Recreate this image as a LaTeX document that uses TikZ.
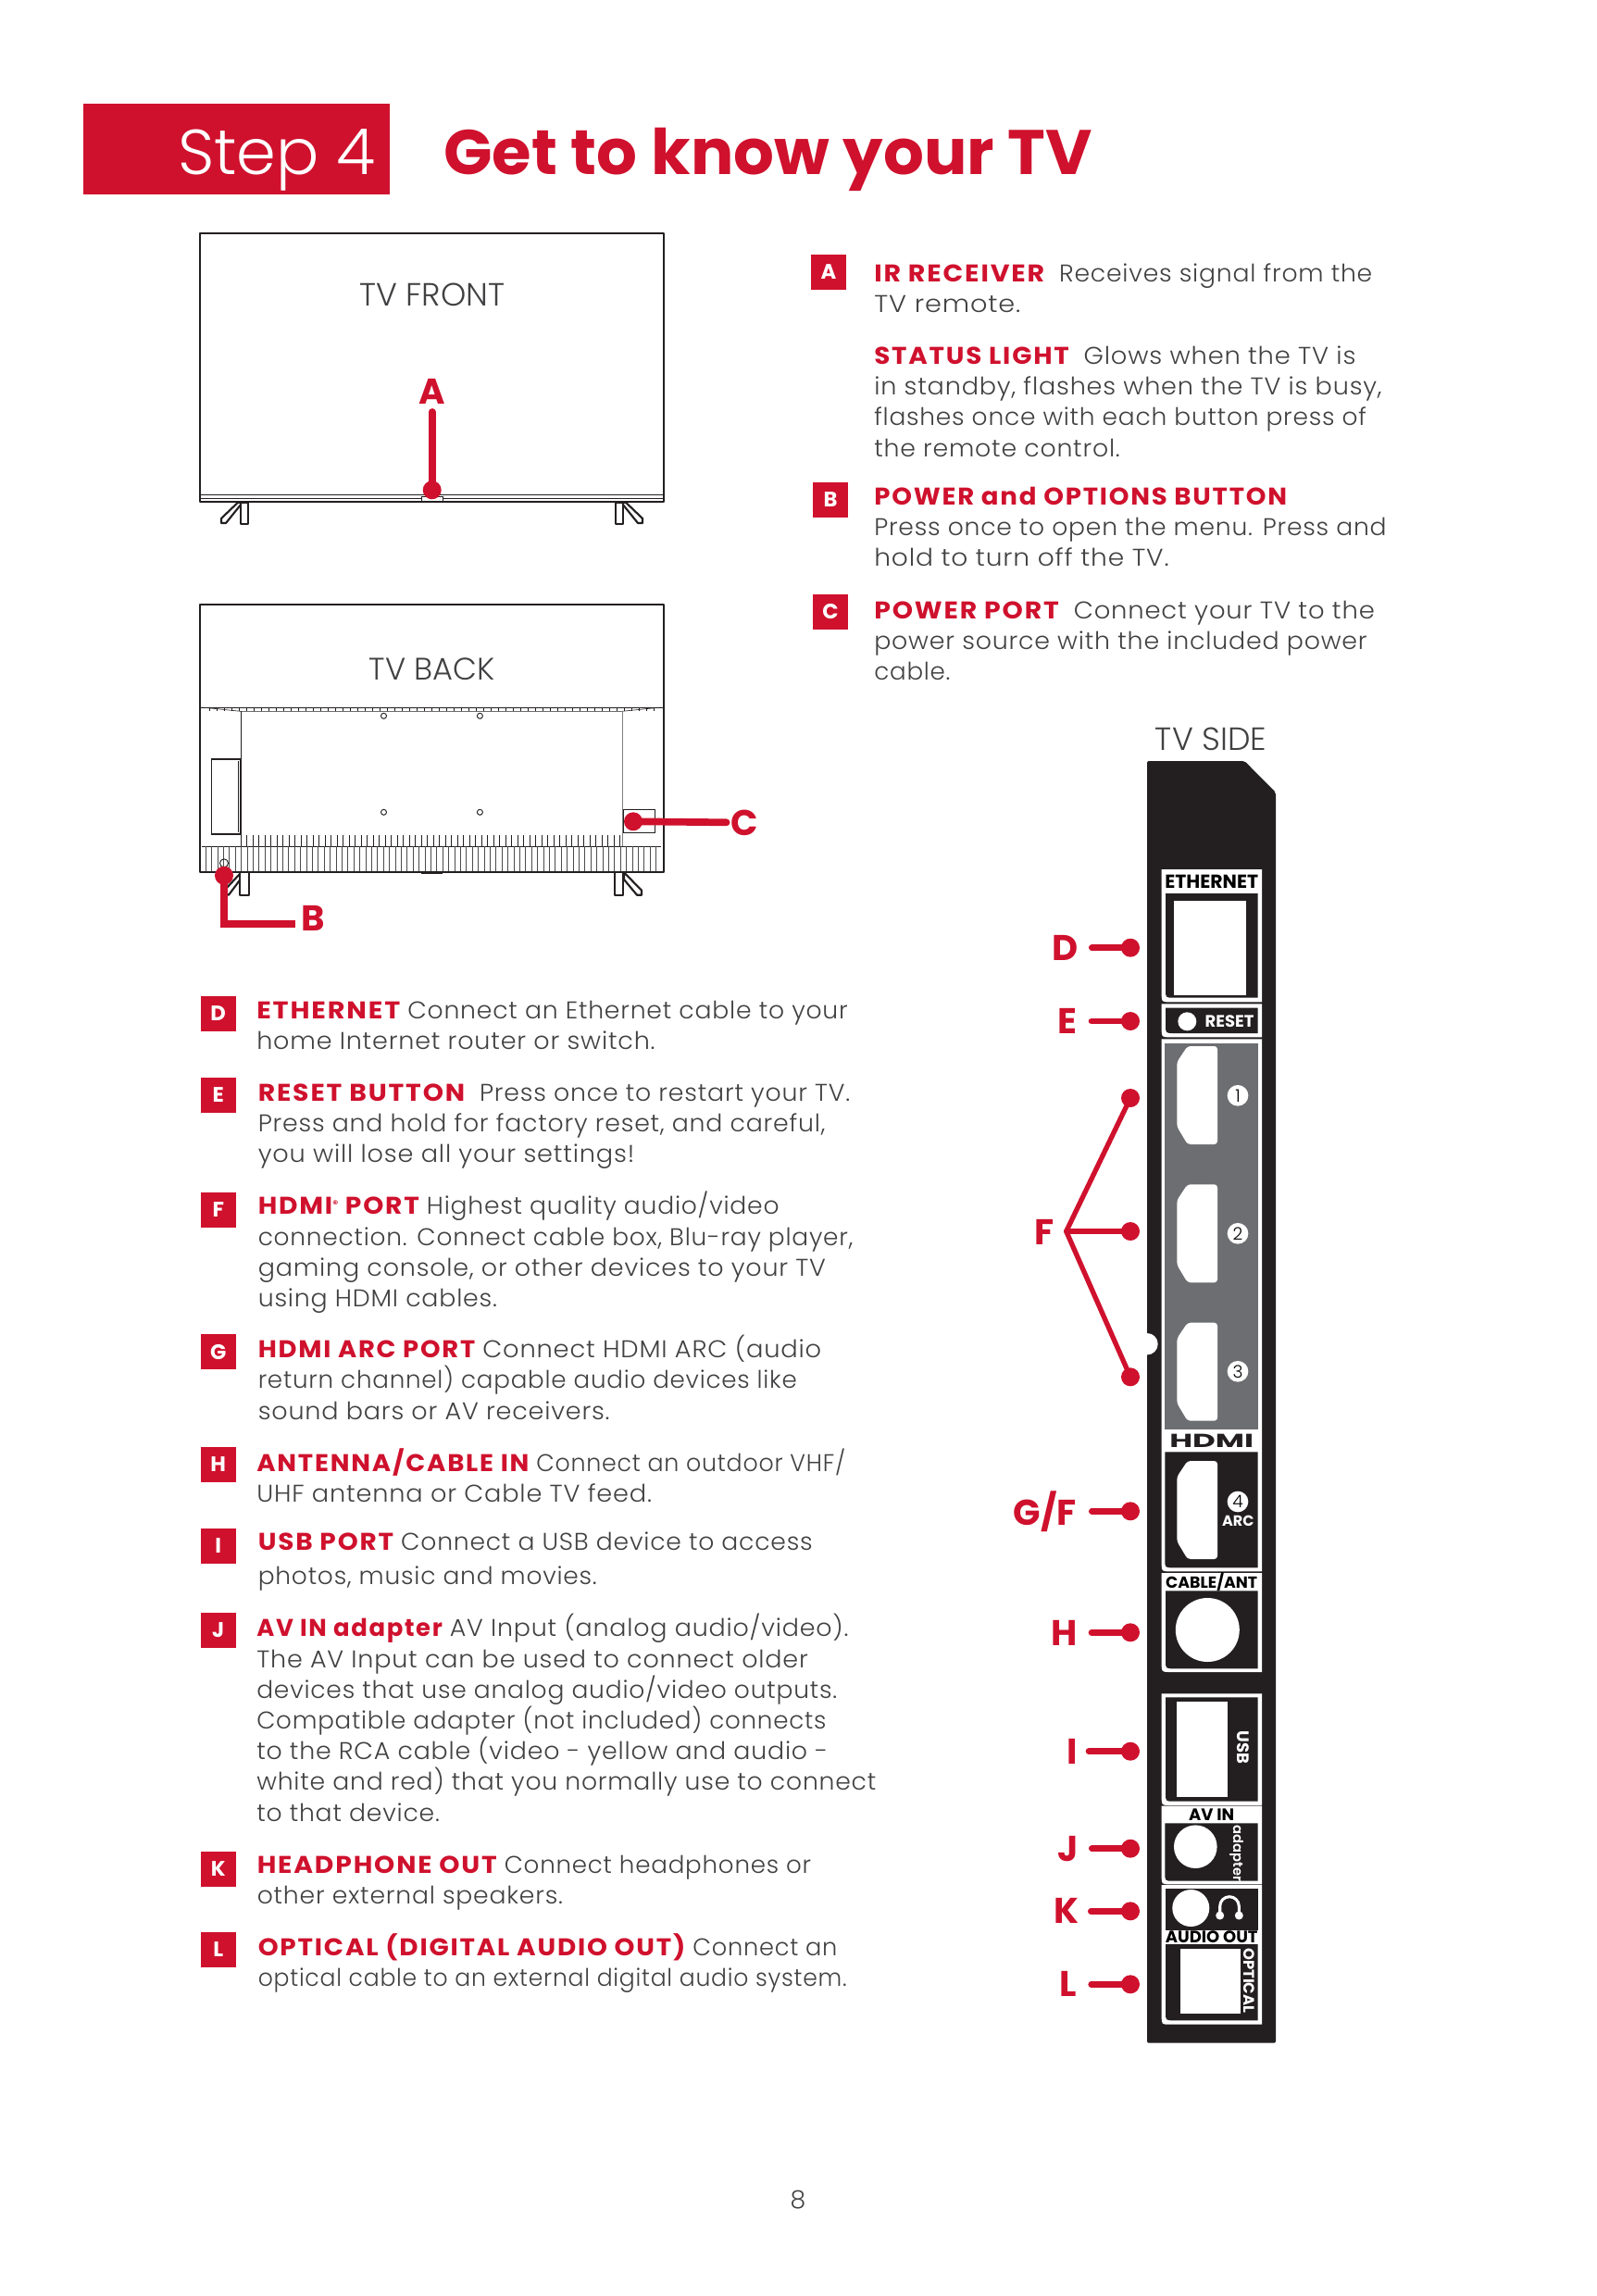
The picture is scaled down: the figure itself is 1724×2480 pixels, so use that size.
\documentclass[tikz,border=0pt]{standalone}
\usepackage{fontspec}
\usepackage{graphicx}
\setmainfont{Poppins}[UprightFont=* Light,BoldFont=* SemiBold]
\newfontfamily\boldfam{Poppins}[UprightFont=* Bold]
\newfontfamily\bodyfam{Poppins}[UprightFont=* Light,LetterSpace=3]
\newfontfamily\redfam{Poppins}[UprightFont=* Bold,LetterSpace=6.5]
\definecolor{stepred}{HTML}{CF112D}
\definecolor{ink}{HTML}{414042}
\definecolor{body}{HTML}{231F20}
\definecolor{hdmigray}{HTML}{6D6E71}
\newcommand\rd[2][1]{\scalebox{#1}[1]{\textcolor{stepred}{\redfam #2}}}
\newcommand\sx[2]{\scalebox{#1}[1]{#2}}
\newcommand\panelpath[4]{(#1,#2) -- (#3,#2) -- (#3,#4) -- ({#1+9},#4) .. controls (#1,#4) .. (#1,{#4-9}) -- cycle}
\newcommand\hdmiport[1]{\fill[white,rounded corners=2.5pt] (1271.3,{#1+17}) -- (1282.7,#1) -- (1315,#1) -- (1315,{#1+106}) -- (1282.7,{#1+106}) -- (1271.3,{#1+87}) -- cycle;}
\lineskiplimit=-20pt
\tikzset{
  x=0.75pt,y=-0.75pt,
  txt/.style={anchor=north west,inner sep=0pt,align=left,text=ink,font=\bodyfam\fontsize{19.6}{24.9}\selectfont},
  sq/.style={fill=stepred,text=white,inner sep=0pt,minimum size=28.5pt,font=\boldfam\fontsize{17}{17}\selectfont},
  lab/.style={inner sep=0pt,text=stepred,font=\boldfam\fontsize{29}{29}\selectfont},
  ptdot/.style={circle,fill=stepred,inner sep=0pt,minimum size=15pt},
  leader/.style={stepred,line width=5pt,line cap=round},
  mainleader/.style={stepred,line width=5.8pt,line cap=round},
  fline/.style={stepred,line width=4pt,line cap=round,line join=round},
  capt/.style={inner sep=0pt,text=ink,font=\fontsize{26}{26}\selectfont},
  plab/.style={inner sep=0pt,text=black,font=\boldfam\fontsize{13.5}{13.5}\selectfont},
  wlab/.style={inner sep=0pt,text=white,font=\boldfam\fontsize{13.5}{13.5}\selectfont},
  tvline/.style={draw=body,line width=1.6pt,line join=round},
  thinl/.style={draw=body,line width=.45pt},
  num/.style={circle,fill=white,inner sep=0pt,minimum size=17pt,text=black,font=\fontsize{14}{14}\selectfont},
}
\begin{document}
\begin{tikzpicture}
\useasboundingbox (0,0) rectangle (1724,2480);
\fill[white] (0,0) rectangle (1724,2480);
% header
\fill[stepred] (90,112) rectangle (421,210);
\node[anchor=base east,inner sep=0pt,text=white,font=\fontsize{51.5}{52}\selectfont] (step) at (406,188) {Step 4};
\node[anchor=base west,inner sep=0pt,text=stepred,font=\boldfam\fontsize{51}{51}\selectfont] (title) at (479,188) {\scalebox{1.014}[1]{Get to know your TV}};
% TV front
\draw[tvline,line width=2pt] (216,252) rectangle (717,542);
\draw[draw=body,line width=.7pt] (216,534) -- (717,534);
\draw[draw=body,line width=.7pt] (216,538) -- (717,538);
\draw[thinl,fill=white] (455.6,536) rectangle (477.8,541.3);
\draw[tvline,fill=white] (239,565) -- (239,560) -- (257,542.7) -- (262,542.7) -- (244,565) -- cycle;
\draw[tvline,fill=white] (260,542.7) rectangle (268,565.7);
\draw[tvline,fill=white] (694,565) -- (694,560) -- (676,542.7) -- (671,542.7) -- (689,565) -- cycle;
\draw[tvline,fill=white] (673,542.7) rectangle (665,565.7);
\node[capt] (front) at (466.7,318.3) {TV FRONT};
\node[lab] (la) at (466.7,422.7) {A};
\node[ptdot] (da) at (466.7,529.3) {};
\coordinate (ca) at (466.7,445);
\draw[mainleader] (da.center) -- (ca);
% TV back
\draw[tvline] (216,652.7) rectangle (717,942.3);
\draw[thinl] (216,764) -- (717,764);
\draw[thinl] (218,764) -- (260,768.3) -- (672,768.3) -- (714,764);
\foreach \x in {226,234,...,708} {\draw[thinl] (\x,764) -- (\x,768.3);}
\draw[thinl] (260.4,768.3) -- (260.4,914);
\draw[thinl,draw=gray] (672.4,768.3) -- (672.4,914);
\draw[thinl] (218,914) -- (714,914);
\foreach \x in {222,228.4,...,714} {\draw[thinl,draw=black!70] (\x,914) -- (\x,941);}
\foreach \x in {266.5,273,...,672} {\draw[thinl] (\x,902.3) -- (\x,914);}
\draw[thinl,line width=.8pt] (228.8,820) rectangle (260,901);
\draw[thinl] (257,822) -- (257,899);
\draw[thinl,line width=.7pt] (673,874) rectangle (707.6,899.3);
\foreach \x/\y in {414.5/773.3,518.4/773.3,414.5/877.3,518.4/877.3} {\draw[thinl,line width=.7pt] (\x,\y) circle (3);}
\draw[thinl,line width=.7pt] (242,932.3) circle (4.5);
\fill[body] (455,941) rectangle (478,943.5);
\draw[tvline,fill=white] (243,965) -- (243,961) -- (259,944) -- (261,948) -- (247,966.7) -- cycle;
\draw[tvline,fill=white] (259,942.3) rectangle (269,966.7);
\draw[tvline,fill=white] (674,942.3) -- (693,961.7) -- (693,966.7) -- (688,966.7) -- (674,950) -- cycle;
\draw[tvline,fill=white] (664,942.3) rectangle (673,966.7);
\node[capt,font=\fontsize{25.2}{26}\selectfont] (back) at (466.6,722.7) {TV BACK};
\node[ptdot] (db) at (242,945.7) {};
\node[ptdot] (dc) at (684,887.3) {};
\node[lab] (lb) at (338,992.3) {B};
\node[lab] (lc) at (804,889.3) {C};
\coordinate (cb) at (318.5,998.3);
\coordinate (cc) at (784.6,888.3);
\draw[mainleader,line cap=butt,line join=miter] (db.center) |- (cb);
\draw[mainleader] (dc.center) -- (cc);
% side body
\fill[body,rounded corners=1.5pt] (1239,822) -- (1344.3,822) -- (1378,856) -- (1378,2206.7) -- (1239,2206.7) -- cycle;
\fill[white] (1239,1451.7) circle (11.7);
\node[capt] (side) at (1308,798) {TV SIDE};
% ethernet
\fill[white] \panelpath{1254.7}{939}{1363}{1082.3};
\fill[body] \panelpath{1259}{965}{1358.7}{1077.7};
\fill[white] (1268,973.3) rectangle (1346,1074.7);
\node[plab,font=\boldfam\fontsize{15.3}{15.3}\selectfont] (ethl) at (1308.7,952.7) {ETHERNET};
% reset
\fill[white] \panelpath{1254.7}{1084.3}{1363}{1120.3};
\fill[body] \panelpath{1259}{1088.7}{1358.7}{1116};
\fill[white] (1282.3,1103.3) circle (10);
\node[wlab] (rstl) at (1328,1103.3) {RESET};
% hdmi
\fill[white] \panelpath{1254.7}{1122.3}{1363}{1697.3};
\fill[hdmigray] (1258.3,1126.7) rectangle (1358.7,1544);
\fill[body] \panelpath{1258.3}{1568.3}{1358.7}{1693.3};
\hdmiport{1130}\hdmiport{1279.3}\hdmiport{1428.7}\hdmiport{1578}
\node[num] (n1) at (1337,1183.3) {1};
\node[num] (n2) at (1337,1332.3) {2};
\node[num] (n3) at (1337,1481.3) {3};
\node[num] (n4) at (1337,1622) {4};
\node[wlab,font=\boldfam\fontsize{12}{12}\selectfont] (arcl) at (1337.3,1643.3) {ARC};
\node[inner sep=0pt,text=body,font=\boldfam\fontsize{17}{17}\selectfont] (hdmil) at (1308.7,1556.7) {\scalebox{1.5}[.9]{HDMI}};
% cable
\fill[white] \panelpath{1254.7}{1699}{1363}{1806};
\fill[body] \panelpath{1259}{1718.3}{1358.7}{1802.3};
\fill[white] (1304.3,1760.5) circle (34.5);
\node[plab,font=\boldfam\fontsize{13}{13}\selectfont] (cabl) at (1308.7,1709.3) {CABLE/ANT};
% usb
\fill[white] \panelpath{1254.7}{1829.3}{1363}{1950};
\fill[body] \panelpath{1259}{1833.3}{1358.7}{1945.7};
\fill[white] (1271.3,1838.3) rectangle (1325.7,1941);
\node[wlab,rotate=-90] (usbl) at (1343.3,1887.3) {USB};
% av in
\fill[white] \panelpath{1254.7}{1950.7}{1363}{2035.3};
\fill[body] \panelpath{1258.3}{1969.3}{1358.7}{2031.7};
\fill[white] (1291.3,1994.7) circle (23.3);
\node[plab] (avl) at (1308.7,1960) {AV IN};
\node[wlab,rotate=-90,font=\fontsize{11}{11}\selectfont\bfseries] (adl) at (1335.7,2002) {adapter};
% audio
\fill[white] \panelpath{1254.7}{2036}{1363}{2186.7};
\fill[body] (1259,2040) rectangle (1358.7,2084.7);
\fill[white] (1286.3,2061) circle (20);
\draw[white,line width=2.3pt] (1317.7,2069) -- (1317.7,2059) arc (180:360:10.3) -- (1338.3,2069);
\fill[white] (1317.7,2069) circle (4.5) (1338.3,2069) circle (4.5);
\node[plab] (aul) at (1308.7,2092) {AUDIO OUT};
\fill[body] \panelpath{1259}{2100}{1358.7}{2182.3};
\fill[white] (1274.7,2105.3) rectangle (1340,2174.7);
\node[wlab,rotate=-90,font=\boldfam\fontsize{12.3}{12.3}\selectfont] (optl) at (1349.5,2139.3) {OPTICAL};
% side leaders
\foreach \n/\t/\lx/\ly/\dy/\cx in {D/D/1150.7/1024.3/1023.7/1179.3,E/E/1152.7/1103.3/1103/1179,H/H/1150/1764/1763.3/1179,I/I/1158/1892.3/1891.7/1176,J/J/1154/1997.3/1996.7/1179.3,K/K/1152/2064.3/2064.3/1178.3,L/L/1154/2143.3/2143.3/1178.7}{
  \node[lab] (l\n) at (\lx,\ly) {\t};
  \node[ptdot] (d\n) at (1221,\dy) {};
  \coordinate (c\n) at (\cx,\dy);
  \draw[leader] (d\n.center) -- (c\n);
}
\node[lab,anchor=east] (lG) at (1163,1632.7) {G/F};
\node[ptdot] (dG) at (1221,1632.3) {};
\coordinate (cG) at (1179.3,1632.3);
\draw[leader] (dG.center) -- (cG);
\node[lab] (lF) at (1128,1331) {F};
\node[ptdot] (dF1) at (1221,1186) {};
\node[ptdot] (dF2) at (1221,1330) {};
\node[ptdot] (dF3) at (1221,1487.3) {};
\coordinate (jF) at (1151.7,1330);
\draw[fline] (dF1.center) -- (jF) -- (dF3.center);
\draw[fline] (jF) -- (dF2.center);
% letter squares
\node[sq] (sA) at (895,294) {A};
\node[sq] (sB) at (897,539.5) {B};
\node[sq] (sC) at (897,661) {C};
\node[sq] (sD) at (235.7,1094.6) {D};
\node[sq] (sE) at (235.7,1183) {E};
\node[sq] (sF) at (235.7,1306.5) {F};
\node[sq] (sG) at (235.7,1460) {G};
\node[sq] (sH) at (235.7,1582) {H};
\node[sq] (sI) at (235.7,1670) {I};
\node[sq] (sJ) at (235.7,1760.6) {J};
\node[sq] (sK) at (235.7,2018.6) {K};
\node[sq] (sL) at (235.7,2105.7) {L};
% text blocks
\node[txt] (tA) at (944,281) {\strut\rd[1.09]{IR RECEIVER}\ \ \sx{1.02}{Receives signal from the}\\\sx{1.1}{TV remote.}};
\node[txt] (tS) at (944,370) {\strut\rd[1.064]{STATUS LIGHT}\ \ \sx{1.045}{Glows when the TV is}\\\sx{1.036}{in standby, flashes when the TV is busy,}\\\sx{1.012}{flashes once with each button press of}\\\sx{1.024}{the remote control.}};
\node[txt] (tB) at (944,522) {\strut\rd[1.056]{POWER and OPTIONS BUTTON}\\\sx{1.017}{Press once to open the menu. Press and}\\\sx{1.075}{hold to turn off the TV.}};
\node[txt] (tC) at (944,645) {\strut\rd[1.085]{POWER PORT}\ \ \sx{1.05}{Connect your TV to the}\\\sx{1.027}{power source with the included power}\\cable.};
\node[txt] (tD) at (277,1077) {\strut\rd[1.1]{ETHERNET} \sx{1.02}{Connect an Ethernet cable to your}\\\sx{1.034}{home Internet router or switch.}};
\node[txt] (tE) at (278.5,1165.5) {\strut\rd[1.084]{RESET BUTTON}\ \ \sx{1.024}{Press once to restart your TV.}\\\sx{1.024}{Press and hold for factory reset, and careful,}\\\sx{1.04}{you will lose all your settings!}};
\node[txt] (tF) at (278.5,1287) {\strut\rd[1.075]{HDMI\raisebox{.5ex}{\fontsize{8}{8}\selectfont\textregistered} PORT} \sx{1.017}{Highest quality audio/video}\\\sx{1.01}{connection. Connect cable box, Blu-ray player,}\\\sx{1.032}{gaming console, or other devices to your TV}\\\sx{1.025}{using HDMI cables.}};
\node[txt] (tG) at (278.5,1442) {\strut\rd[1.05]{HDMI ARC PORT} \sx{1.045}{Connect HDMI ARC (audio}\\return channel) capable audio devices like\\\sx{1.034}{sound bars or AV receivers.}};
\node[txt] (tH) at (277,1564) {\strut\rd[1.056]{ANTENNA/CABLE IN} \sx{.968}{Connect an outdoor VHF/}\\\sx{1.04}{UHF antenna or Cable TV feed.}};
\node[txt] (tI) at (278.5,1651) {\strut\rd[1.07]{USB PORT} \sx{1.018}{Connect a USB device to access}\\[2.6pt]\sx{1.013}{photos, music and movies.}};
\node[txt] (tJ) at (277,1743) {\strut\rd[.99]{AV IN adapter} \sx{1.03}{AV Input (analog audio/video).}\\\sx{1.033}{The AV Input can be used to connect older}\\\sx{1.015}{devices that use analog audio/video outputs.}\\Compatible adapter (not included) connects\\\sx{1.026}{to the RCA cable (video - yellow and audio -}\\\sx{1.02}{white and red) that you normally use to connect}\\\sx{1.02}{to that device.}};
\node[txt] (tK) at (277.5,2000) {\strut\rd[1.08]{HEADPHONE OUT} Connect headphones or\\\sx{1.02}{other external speakers.}};
\node[txt] (tL) at (278.5,2088) {\strut\rd[1.066]{OPTICAL (DIGITAL AUDIO OUT)} \sx{.98}{Connect an}\\\sx{.96}{optical cable to an external digital audio system.}};
\node[inner sep=0pt,text=ink,font=\fontsize{20}{20}\selectfont] (page) at (862,2376) {8};
\end{tikzpicture}
\end{document}
